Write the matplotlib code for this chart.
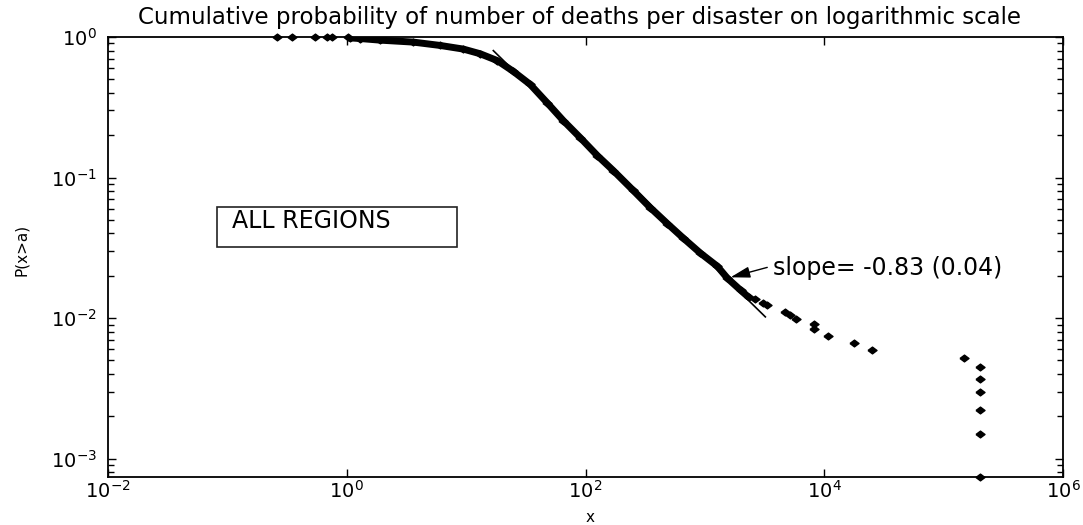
import matplotlib
matplotlib.use('Agg')
import matplotlib.pyplot as plt
from matplotlib.patches import Rectangle
from matplotlib.ticker import LogLocator, NullLocator, LogFormatterSciNotation, FixedLocator

# ---------------- data ----------------
# sparse points on the flat top (x < ~1)
flat_x = [0.26, 0.35, 0.54, 0.68, 0.75, 1.03]
flat_y = [1.0, 1.0, 0.999, 0.998, 0.997, 0.996]

# dense part of the empirical CCDF (reads along the thick band)
dense_x = [1.07, 1.3, 1.9, 3.6, 6.1, 9.5, 13.1, 18.2, 24.8, 34.4, 47.8, 65.2,
           90.4, 126, 171, 251, 349, 485, 661, 917, 1270, 1545, 1990, 2320]
dense_y = [0.985, 0.975, 0.95, 0.92, 0.87, 0.82, 0.76, 0.68, 0.57, 0.46, 0.34, 0.254,
           0.192, 0.143, 0.112, 0.081, 0.061, 0.047, 0.037, 0.029, 0.0234, 0.0192, 0.0158, 0.0141]

# sparse tail
tail_x = [2650, 3090, 3340, 4700, 5200, 5800, 8200, 8200, 10700, 17800, 25000,
          149000, 200000, 200000, 200000, 200000, 200000, 200000]
tail_y = [0.0136, 0.0127, 0.0123, 0.0110, 0.0105, 0.0099, 0.0091, 0.0083, 0.0075,
          0.0067, 0.0059, 0.0052, 0.0045, 0.0037, 0.0030, 0.0022, 0.0015, 0.00074]

# fitted power-law line
fit_x = [16.9, 3210]
fit_y = [0.80, 0.0102]

x_ticks = [1e-2, 1e0, 1e2, 1e4, 1e6]
y_ticks = [1e-3, 1e-2, 1e-1, 1e0]

title_text = "Cumulative probability of number of deaths per disaster on logarithmic scale"
box_text = "ALL REGIONS"
slope_text = "slope= -0.83 (0.04)"
x_label = "x"
y_label = "P(x>a)"

# arrow of the annotation
arrow_tip = (1640, 0.0195)
text_pos = (3700, 0.0226)

# ---------------- figure ----------------
W, H = 1083, 525
fig = plt.figure(figsize=(W / 100, H / 100), dpi=100)
fig.patch.set_facecolor('white')
ax = fig.add_axes([108 / W, 48 / H, 955 / W, 440 / H])
ax.set_xscale('log')
ax.set_yscale('log')
ax.set_xlim(1e-2, 1e6)
ax.set_ylim(7.4e-4, 1)

diamond = [(-1, 0), (0, 0.75), (1, 0), (0, -0.75), (-1, 0)]

ax.plot(dense_x, dense_y, '-', color='k', lw=5, solid_joinstyle='round',
        solid_capstyle='round', zorder=3)
ax.plot(dense_x, dense_y, linestyle='none', marker=diamond, ms=6.5, color='k', zorder=3)
ax.plot(flat_x, flat_y, linestyle='none', marker=diamond, ms=6.5, color='k',
        zorder=4, clip_on=False)
ax.plot(tail_x, tail_y, linestyle='none', marker=diamond, ms=6.5, color='k',
        zorder=4, clip_on=False)
ax.plot(fit_x, fit_y, '-', color='k', lw=1.2, zorder=5)

# ticks in MATLAB style
ax.xaxis.set_major_locator(FixedLocator(x_ticks))
ax.xaxis.set_minor_locator(NullLocator())
ax.xaxis.set_major_formatter(LogFormatterSciNotation())
ax.yaxis.set_major_locator(FixedLocator(y_ticks))
ax.yaxis.set_minor_locator(LogLocator(base=10, subs=range(2, 10), numticks=20))
ax.yaxis.set_major_formatter(LogFormatterSciNotation())
ax.tick_params(which='both', direction='in', top=True, right=True, colors='k',
               labelsize=14, width=1.0)
ax.tick_params(which='major', length=6)
ax.tick_params(which='minor', length=4)
ax.tick_params(axis='x', pad=2)
ax.tick_params(axis='y', pad=8)
for s in ax.spines.values():
    s.set_linewidth(1.3)
    s.set_color('k')

# texts
fig.text(579 / W, (H - 24) / H, title_text, ha='center', va='baseline', fontsize=16.5)
fig.text(22 / W, (H - 250) / H, y_label, rotation=90, ha='center', va='center', fontsize=11)
fig.text(590 / W, (H - 517) / H, x_label, ha='center', va='center', fontsize=11)

# label box
fig.patches.append(Rectangle((216.7 / W, (H - 246.7) / H), 240 / W, 40 / H,
                             transform=fig.transFigure, fill=False, edgecolor='#222222',
                             lw=1.2))
fig.text(231.7 / W, (H - 228) / H, box_text, ha='left', va='baseline', fontsize=17)

# slope annotation
ax.annotate(slope_text, xy=arrow_tip, xytext=text_pos, ha='left', va='center',
            fontsize=17,
            arrowprops=dict(arrowstyle='-|>,head_length=0.7,head_width=0.2', color='k',
                            lw=1.0, shrinkA=2, shrinkB=0, relpos=(0, 0.6)))

fig.savefig('out.png', dpi=100, facecolor='white')
